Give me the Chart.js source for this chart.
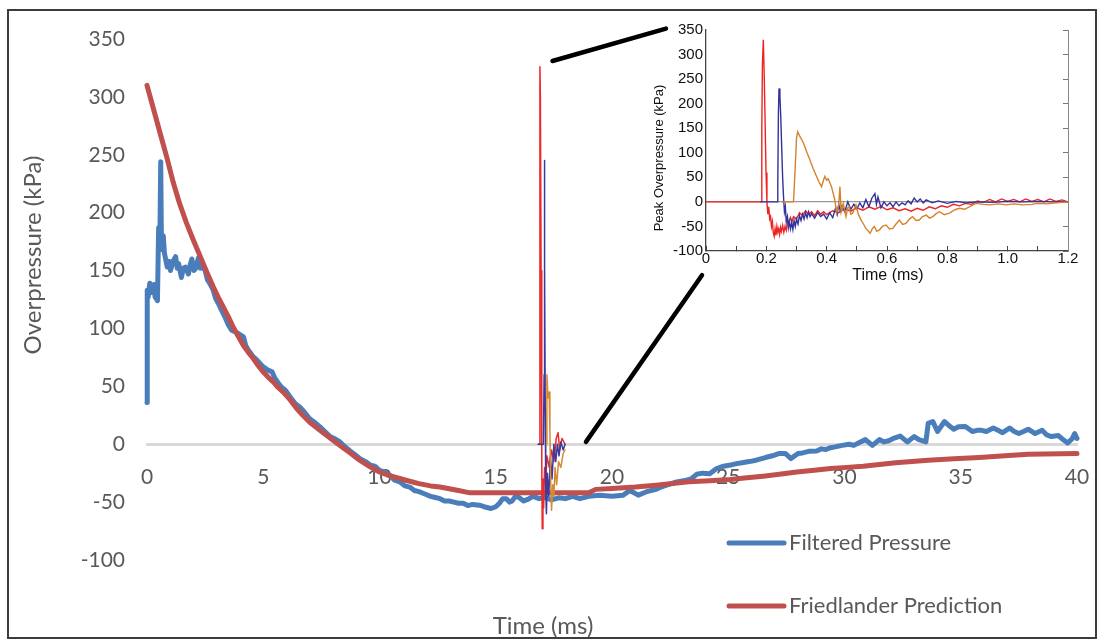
<!DOCTYPE html>
<html>
<head>
<meta charset="utf-8">
<title>Overpressure vs time</title>
<script src="https://cdn.jsdelivr.net/npm/chart.js@4.4.0/dist/chart.umd.min.js"></script>
<style>
  html, body { margin: 0; padding: 0; background: #fff; }
  body { width: 1097px; height: 639px; position: relative; overflow: hidden; }
  #main { position: absolute; left: 0; top: 0; }
  #inset { position: absolute; left: 645px; top: 20px; }
  #frame { position: absolute; left: 7px; top: 9px; width: 1090px; height: 630px;
           border: 2px solid #3c3c3c; box-sizing: border-box; pointer-events: none; }
</style>
</head>
<body>
<canvas id="main" width="1097" height="639"></canvas>
<canvas id="inset" width="440" height="268"></canvas>
<div id="frame"></div>
<script>
// ---- data (time in ms, pressure in kPa) ----
var yTicks = [-100, -50, 0, 50, 100, 150, 200, 250, 300, 350];

var filteredPressure = [
  [0,36],[0.01,133],[0.05,127],[0.12,139],[0.2,131],[0.3,138],[0.35,127],[0.45,124],[0.5,187],
  [0.55,170],[0.59,244],[0.62,175],[0.66,168],[0.7,180],[0.75,165],[0.87,153],[0.95,158],[1.01,150],
  [1.12,158],[1.23,162],[1.3,152],[1.36,156],[1.48,144],[1.56,152],[1.65,153],[1.78,147],[1.86,155],
  [1.93,160],[2.02,150],[2.1,152],[2.21,161],[2.3,152],[2.36,154],[2.5,150],[2.6,142],[2.7,139],
  [2.85,133],[2.95,126],[3.07,121.5],[3.2,116],[3.35,110],[3.5,103],[3.64,98.4],[3.8,97],[3.93,95.6],
  [4.15,92.7],[4.25,85],[4.37,81],[4.55,76],[4.73,72.6],[4.85,70],[5.0,66.8],[5.2,64],[5.38,62.5],
  [5.5,57],[5.66,52.4],[5.8,49],[5.95,46.6],[6.15,41],[6.38,35],[6.58,32],[6.8,27],[7.0,22],[7.2,19],
  [7.44,15],[7.65,11],[7.85,7],[8.05,5],[8.3,2],[8.5,-2],[8.75,-6],[8.95,-9],[9.16,-12.4],[9.4,-15],
  [9.6,-18],[9.8,-19],[10.0,-22.5],[10.2,-24],[10.45,-27],[10.65,-31],[10.87,-32.5],[11.1,-36],
  [11.3,-37],[11.5,-40],[11.7,-41],[11.95,-43],[12.2,-45],[12.4,-46],[12.6,-47],[12.8,-49],[13.0,-49],
  [13.2,-50],[13.4,-51],[13.6,-51],[13.8,-53],[14.0,-52],[14.3,-52.7],[14.5,-54],[14.8,-55.5],
  [15.0,-54],[15.16,-51],[15.3,-47],[15.45,-47],[15.6,-50],[15.7,-49],[15.85,-45],[16.0,-46],
  [16.2,-49],[16.4,-47.5],[16.6,-45],[16.87,-47],[17.1,-46],[17.4,-48],[17.7,-46.3],[18.0,-47],
  [18.3,-45],[18.62,-47],[19.0,-45],[19.48,-44],[20.0,-45],[20.48,-44],[20.77,-40],[21.13,-44],
  [21.49,-41],[21.9,-39],[22.1,-37],[22.35,-35.4],[22.78,-32.5],[23.2,-31],[23.4,-30],[23.64,-26],
  [23.9,-25],[24.2,-25.6],[24.5,-21],[24.8,-19],[25.1,-18],[25.3,-17],[25.6,-16],[25.9,-15],
  [26.2,-13.8],[26.6,-11.5],[26.9,-10],[27.2,-8],[27.45,-8],[27.7,-12.4],[28.0,-8],[28.2,-7.5],
  [28.5,-6],[28.8,-5.8],[29.0,-4],[29.2,-4.6],[29.4,-3],[29.6,-2.3],[29.9,-1],[30.2,0],[30.4,-1],
  [30.6,1],[30.9,4],[31.2,-1],[31.5,4],[31.7,2],[31.9,3],[32.1,5],[32.4,7],[32.7,2],[33.0,6.6],
  [33.2,4],[33.5,2],[33.6,18],[33.8,19.6],[34.0,11],[34.3,19.6],[34.5,16],[34.7,13],[34.9,15],
  [35.2,15.3],[35.5,11],[35.7,12],[35.9,12],[36.1,11],[36.4,14],[36.6,12],[36.8,10],[37.1,14],
  [37.3,11],[37.5,9.2],[37.7,11],[37.9,13],[38.2,9.2],[38.5,12],[38.7,8],[38.9,6.6],[39.2,7.5],
  [39.4,4],[39.6,1],[39.8,5],[39.9,9.2],[40.0,5]
];

var friedlander = [
  [0,310],[0.3,288],[0.6,266],[0.85,248],[1.13,226],[1.4,208],[1.7,191],[2.0,176],[2.42,156],
  [2.63,146],[2.85,136],[3.06,127],[3.28,118.6],[3.5,110],[3.71,101],[3.93,93],[4.14,85.5],
  [4.35,79.5],[4.57,74],[4.78,68],[5.0,62.4],[5.21,58],[5.43,53.8],[5.64,49],[5.86,45],[6.15,38.5],
  [6.43,31],[6.7,25],[7.0,19],[7.44,12],[7.9,5],[8.3,-1],[8.7,-7],[9.16,-14],[9.6,-19.5],[10.0,-24],
  [10.4,-27],[10.87,-29.6],[11.3,-32],[11.7,-34],[12.2,-36],[12.6,-37],[13.0,-38.5],[13.4,-40],
  [13.9,-42],[15,-42],[16,-42],[17,-42],[18,-42],[19.0,-42],[19.3,-39],[20.0,-38.3],[21.0,-37],
  [21.9,-35.4],[22.6,-34],[23.3,-32.5],[24.2,-31.5],[25.1,-30.5],[25.8,-29],[26.5,-27.6],[27.2,-26],
  [27.95,-24],[28.7,-22.5],[29.4,-21],[30.1,-20],[30.8,-19],[31.5,-17.5],[32.2,-16],[32.9,-15],
  [33.6,-13.8],[34.7,-12.6],[35.8,-11.5],[36.9,-10],[37.9,-8.6],[40,-8]
];

// the small pasted copy of the inset traces sitting at ~17 ms
var spikeRed = [
  [16.83,0],[16.89,0],[16.9,326],[16.92,300],[16.95,150],[16.98,-20],[17.0,-73],[17.03,-30],
  [17.06,-55],[17.1,-20],[17.15,-35],[17.2,-10],[17.3,-20],[17.4,-5],[17.5,-15],[17.6,5],
  [17.68,10],[17.75,-5],[17.85,5],[17.98,0]
];
var spikeBlue = [
  [16.83,0],[17.05,0],[17.08,60],[17.09,245],[17.11,150],[17.13,30],[17.15,-40],[17.18,-60],
  [17.22,-25],[17.28,-45],[17.35,-10],[17.42,-30],[17.5,0],[17.58,-15],[17.65,0],[17.72,-10],
  [17.8,2],[17.9,-5],[17.98,0]
];
var spikeOrange = [
  [17.18,0],[17.2,60],[17.25,40],[17.3,45],[17.33,10],[17.36,-30],[17.4,-57],[17.45,-35],
  [17.5,-45],[17.55,-20],[17.62,-35],[17.7,-15],[17.8,-20],[17.9,-8],[17.98,-5]
];

// inset (time 0 - 1.2 ms); flat leading parts only where each trace shows
var insetRed = [
  [0,0],[0.183,0],[0.185,150],[0.187,280],[0.19,330],[0.193,260],[0.196,160],[0.199,60],[0.202,0],
  [0.205,-25],[0.208,-10],[0.211,-35],[0.214,-30],[0.217,-50],[0.22,-40],[0.223,-62],[0.226,-70],
  [0.229,-55],[0.232,-68],[0.235,-50],[0.238,-62],[0.241,-55],[0.244,-66],[0.247,-52],[0.25,-60],
  [0.254,-48],[0.258,-62],[0.262,-50],[0.266,-58],[0.27,-40],[0.275,-45],[0.28,-32],[0.285,-40],
  [0.29,-30],[0.3,-35],[0.31,-22],[0.32,-28],[0.33,-18],[0.34,-25],[0.35,-20],[0.36,-28],[0.37,-18],
  [0.38,-25],[0.39,-20],[0.4,-26],[0.42,-18],[0.44,-22],[0.46,-14],[0.48,-19],[0.5,-12],[0.52,-17],
  [0.54,-10],[0.56,-15],[0.58,-9],[0.6,-16],[0.62,-12],[0.64,-18],[0.66,-14],[0.68,-19],[0.7,-13],
  [0.72,-17],[0.74,-10],[0.76,-14],[0.78,-8],[0.8,-11],[0.82,-5],[0.84,-8],[0.86,-3],[0.88,-5],
  [0.9,2],[0.92,-1],[0.94,5],[0.96,0],[0.98,6],[1.0,1],[1.02,5],[1.04,0],[1.06,6],[1.08,1],[1.1,5],
  [1.12,0],[1.14,6],[1.16,1],[1.18,4],[1.2,0]
];
var insetBlue = [
  [0.18,0],[0.236,0],[0.238,40],[0.24,180],[0.242,231],[0.245,215],[0.248,170],[0.251,110],[0.254,50],
  [0.257,10],[0.26,-20],[0.263,-10],[0.266,-40],[0.27,-30],[0.273,-52],[0.276,-40],[0.28,-55],
  [0.284,-42],[0.288,-56],[0.292,-38],[0.296,-50],[0.3,-35],[0.305,-45],[0.31,-28],[0.315,-38],
  [0.32,-25],[0.325,-35],[0.33,-22],[0.335,-32],[0.34,-20],[0.345,-30],[0.35,-24],[0.36,-33],
  [0.37,-22],[0.38,-30],[0.39,-25],[0.4,-35],[0.41,-22],[0.42,-32],[0.43,-12],[0.435,-25],[0.44,-5],
  [0.445,-18],[0.45,-8],[0.46,-20],[0.47,0],[0.48,-15],[0.49,-5],[0.5,-14],[0.51,-2],[0.52,-12],
  [0.53,5],[0.54,-10],[0.55,8],[0.56,17],[0.565,-5],[0.57,10],[0.58,-12],[0.59,0],[0.6,-8],[0.61,-2],
  [0.62,-10],[0.63,0],[0.64,-8],[0.65,-2],[0.66,-6],[0.67,2],[0.68,-4],[0.69,8],[0.7,0],[0.71,6],
  [0.72,-2],[0.73,4],[0.75,-2],[0.77,2],[0.8,-3],[0.83,1],[0.86,-2],[0.9,0],[0.95,-1],[1.0,1],
  [1.05,0],[1.1,1],[1.15,0],[1.2,0]
];
var insetOrange = [
  [0.25,0],[0.29,0],[0.295,60],[0.3,130],[0.304,143],[0.31,135],[0.323,120],[0.335,100],[0.345,85],
  [0.355,68],[0.367,51],[0.375,40],[0.383,31],[0.39,45],[0.394,52],[0.4,44],[0.405,47],[0.416,31],
  [0.427,4],[0.433,-23],[0.44,-5],[0.444,31],[0.448,-20],[0.455,-3],[0.464,-30],[0.47,-12],
  [0.475,-10],[0.48,-25],[0.486,-23],[0.497,-6],[0.505,-25],[0.514,-37],[0.522,-45],[0.53,-54],
  [0.544,-64],[0.551,-55],[0.558,-50],[0.566,-60],[0.575,-57],[0.585,-50],[0.597,-47],[0.608,-55],
  [0.619,-54],[0.63,-45],[0.641,-37],[0.652,-46],[0.663,-44],[0.674,-35],[0.685,-30],[0.696,-38],
  [0.707,-37],[0.718,-30],[0.73,-27],[0.741,-33],[0.752,-30],[0.763,-24],[0.774,-20],[0.79,-26],
  [0.807,-23],[0.825,-16],[0.84,-13],[0.857,-15],[0.873,-10],[0.885,-6],[0.895,-3],[0.92,-5],
  [0.94,-6],[0.97,-4],[0.995,-6],[1.02,-4],[1.05,-6],[1.08,-5],[1.1,-3],[1.13,-4],[1.16,-2],[1.2,0]
];

// black "zoom" lines from the spike to the inset, in main chart units
var zoomLinks = [
  [[17.44, 331], [22.32, 359]],
  [[18.88, 2], [23.87, 146]]
];

// draws the extra bits: zoom lines, the stacked legend and the axis titles
var annotate = {
  id: 'annotate',
  afterDraw: function (chart, args, opts) {
    var ctx = chart.ctx;
    ctx.save();
    (opts.links || []).forEach(function (l) {
      var xs = chart.scales.x, ys = chart.scales.y;
      ctx.beginPath();
      ctx.moveTo(xs.getPixelForValue(l[0][0]), ys.getPixelForValue(l[0][1]));
      ctx.lineTo(xs.getPixelForValue(l[1][0]), ys.getPixelForValue(l[1][1]));
      ctx.strokeStyle = "#000";
      ctx.lineWidth = 4.5;
      ctx.lineCap = 'round';
      ctx.stroke();
    });
    if (opts.legend) {
      var lg = opts.legend, row = 0;
      chart.data.datasets.forEach(function (ds) {
        if (!ds.label) return;
        var y = lg.y + row * lg.gap;
        ctx.beginPath();
        ctx.moveTo(lg.x, y);
        ctx.lineTo(lg.x + lg.len, y);
        ctx.strokeStyle = ds.borderColor;
        ctx.lineWidth = 5;
        ctx.lineCap = 'round';
        ctx.stroke();
        ctx.fillStyle = lg.color;
        ctx.font = lg.font;
        ctx.textAlign = 'left';
        ctx.textBaseline = 'middle';
        ctx.fillText(ds.label, lg.x + lg.len + 5, y);
        row++;
      });
    }
    (opts.titles || []).forEach(function (t) {
      ctx.save();
      ctx.translate(t.x, t.y);
      if (t.rotate) ctx.rotate(t.rotate);
      ctx.font = t.font;
      ctx.fillStyle = t.color;
      ctx.textAlign = 'center';
      ctx.textBaseline = 'middle';
      ctx.fillText(t.text, 0, 0);
      ctx.restore();
    });
    ctx.restore();
  }
};

// main chart
var ctx = document.getElementById('main').getContext('2d');
var myChart = new Chart(ctx, {
  type: 'line',
  data: {
    datasets: [{
      label: 'Filtered Pressure',
      data: filteredPressure,
      borderColor: "#4a7ebb",
      borderWidth: 5,
      order: 5
    },
    {
      label: 'Friedlander Prediction',
      data: friedlander,
      borderColor: "#c0504d",
      borderWidth: 5,
      order: 4
    },
    { label: '', data: spikeRed, borderColor: "#ec2a2a", borderWidth: 1.5, order: 3 },
    { label: '', data: spikeBlue, borderColor: "#3b3b9e", borderWidth: 1.5, order: 2 },
    { label: '', data: spikeOrange, borderColor: "#d68a35", borderWidth: 1.5, order: 1 }
    ]
  },
  options: {
    responsive: false,
    animation: false,
    events: [],
    layout: { padding: { top: 39, right: 20, bottom: 79, left: 0 } },
    datasets: {
      line: { pointRadius: 0, tension: 0, clip: false, borderJoinStyle: 'round', borderCapStyle: 'round' }
    },
    plugins: {
      legend: { display: false },
      tooltip: { enabled: false },
      annotate: {
        links: zoomLinks,
        legend: { x: 729, y: 543, gap: 63, len: 55, color: "#595959", font: "22px Lato" },
        titles: [
          { text: 'Overpressure (kPa)', x: 33, y: 255, rotate: -Math.PI / 2, font: "24px Lato", color: "#595959" },
          { text: 'Time (ms)', x: 543, y: 626, font: "24px Lato", color: "#595959" }
        ]
      }
    },
    scales: {
      x: {
        type: 'linear',
        min: 0,
        max: 40,
        position: { y: 0 },
        ticks: { stepSize: 5, padding: 20, maxRotation: 0, color: "#595959", font: { family: 'Lato', size: 21 } },
        grid: { display: false, drawTicks: false },
        border: { color: "#d9d9d9", width: 3 },
        afterFit: function (s) { s.height = 0; s.paddingLeft = 0; s.paddingRight = 0; }
      },
      y: {
        min: yTicks[0],
        max: yTicks[yTicks.length - 1],
        ticks: { stepSize: 50, padding: 22, color: "#595959", font: { family: 'Lato', size: 21 } },
        grid: { display: false, drawTicks: false },
        border: { display: false },
        afterFit: function (s) { s.width = 147; s.paddingTop = 0; s.paddingBottom = 0; }
      }
    }
  },
  plugins: [annotate]
});

// inset chart
var ctx2 = document.getElementById('inset').getContext('2d');
var insetChart = new Chart(ctx2, {
  type: 'line',
  data: {
    datasets: [
      { label: '', data: insetOrange, borderColor: "#d4832c", order: 1 },
      { label: '', data: insetBlue, borderColor: "#33339c", order: 2 },
      { label: '', data: insetRed, borderColor: "#ee2424", order: 3 }
    ]
  },
  options: {
    responsive: false,
    animation: false,
    events: [],
    layout: { padding: { top: 10, right: 0, bottom: 0, left: 0 } },
    datasets: {
      line: { pointRadius: 0, tension: 0, borderWidth: 1.4, clip: false }
    },
    plugins: {
      legend: { display: false },
      tooltip: { enabled: false },
      annotate: {
        titles: [
          { text: 'Peak Overpressure (kPa)', x: 14, y: 138, rotate: -Math.PI / 2, font: "13px 'Liberation Sans'", color: "#111" },
          { text: 'Time (ms)', x: 243, y: 256, font: "16px 'Liberation Sans'", color: "#111" }
        ]
      }
    },
    scales: {
      x: {
        type: 'linear',
        min: 0,
        max: 1.2,
        ticks: {
          stepSize: 0.1,
          autoSkip: false,
          maxRotation: 0,
          padding: 4,
          color: "#111",
          font: { family: 'Liberation Sans', size: 15 },
          callback: function (v) {
            if (Math.round(v * 10) % 2 !== 0) return '';
            return v === 0 ? '0' : v.toFixed(1);
          }
        },
        grid: { drawOnChartArea: false, tickLength: -5, color: "#444" },
        border: { color: "#444", width: 1.3 },
        afterFit: function (s) { s.height = 37; s.paddingLeft = 0; s.paddingRight = 0; }
      },
      y: {
        min: yTicks[0],
        max: yTicks[yTicks.length - 1],
        ticks: { stepSize: 50, padding: 3, color: "#111", font: { family: 'Liberation Sans', size: 15 } },
        grid: {
          drawTicks: false,
          lineWidth: 1.2,
          color: function (c) { return c.tick && c.tick.value === 0 ? "#9a9a9a" : "rgba(0,0,0,0)"; }
        },
        border: { color: "#444", width: 1.3 },
        afterFit: function (s) { s.width = 61; s.paddingTop = 0; s.paddingBottom = 0; }
      },
      yR: {
        position: 'right',
        min: yTicks[0],
        max: yTicks[yTicks.length - 1],
        ticks: { display: false, stepSize: 50 },
        grid: { drawOnChartArea: false, tickLength: -5, color: "#777" },
        border: { color: "#888", width: 1 },
        afterFit: function (s) { s.width = 17; }
      }
    }
  },
  plugins: [annotate]
});
</script>
</body>
</html>
